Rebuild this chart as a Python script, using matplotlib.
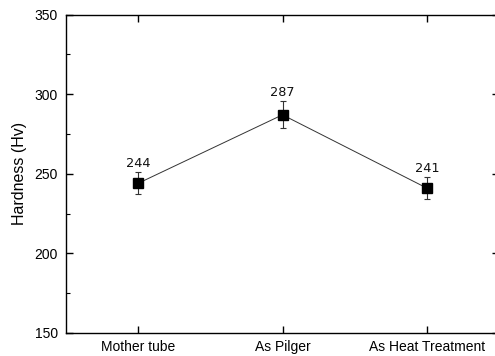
import matplotlib
matplotlib.use("Agg")
import matplotlib.pyplot as plt
from matplotlib.ticker import MultipleLocator

categories = ["Mother tube", "As Pilger", "As Heat Treatment"]
hardness = [244, 287, 241]
errors = [7, 8.5, 7]
value_labels = ["244", "287", "241"]

fig = plt.figure(figsize=(4.95, 3.56), dpi=100)
W, H = 495, 356
left, right, top, bottom = 66, 499, 14.5, 333
ax = fig.add_axes([left / W, 1 - bottom / H, (right - left) / W, (bottom - top) / H])

x = list(range(len(categories)))
ax.errorbar(x, hardness, yerr=errors, fmt='s', color='black', markersize=6.5,
            ecolor='#333333', elinewidth=0.8, capsize=2.5, capthick=0.8, zorder=3)
ax.plot(x, hardness, '-', color='#333333', linewidth=0.7, zorder=2)

for xi, v, e, lab in zip(x, hardness, errors, value_labels):
    ax.annotate(lab, xy=(xi, v + e), xytext=(0, 3.6), textcoords='offset points',
                ha='center', va='baseline', fontsize=9.3, family='DejaVu Sans',
                color='#111111')

ax.set_xlim(-0.5, 2.5)
ax.set_ylim(150, 350)
ax.set_xticks(x)
ax.set_xticklabels(categories, family='Liberation Sans', fontsize=10)
ax.yaxis.set_major_locator(MultipleLocator(50))
ax.yaxis.set_minor_locator(MultipleLocator(25))
for lab in ax.get_yticklabels():
    lab.set_family('Liberation Sans')
    lab.set_fontsize(10)
ax.tick_params(axis='both', which='major', direction='in', length=5, width=1,
               top=True, right=True)
ax.tick_params(axis='y', which='minor', direction='in', length=3, width=0.8,
               left=True, right=True)
ax.tick_params(axis='x', pad=5)
ax.tick_params(axis='y', pad=6)
for s in ax.spines.values():
    s.set_linewidth(1.0)
ax.set_ylabel("Hardness (Hv)", family='Liberation Sans', fontsize=11.5, labelpad=5)

fig.savefig("out.png", dpi=100)
